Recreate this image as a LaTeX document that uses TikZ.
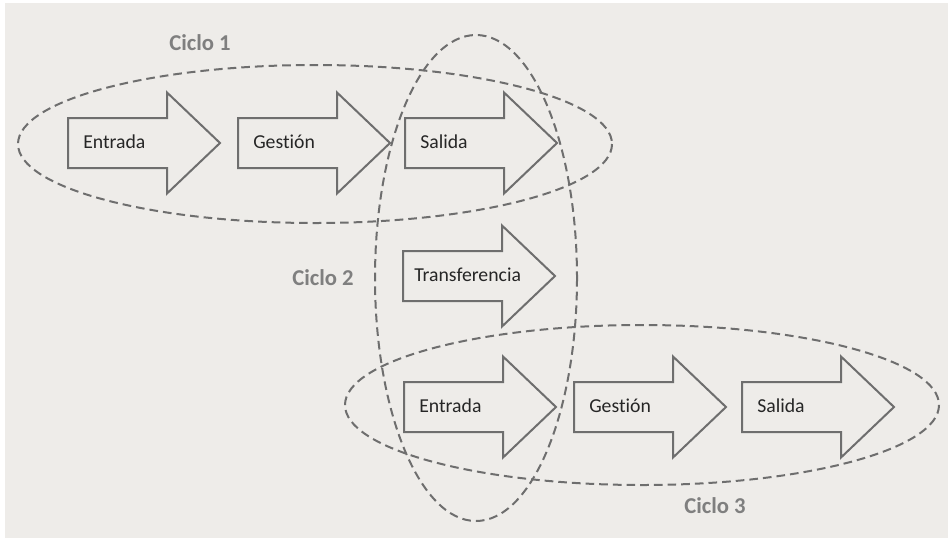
\documentclass[tikz,border=0pt]{standalone}
\usepackage{fontspec}
\setmainfont{Carlito}[Ligatures={NoCommon}]
\usepackage{tikz}
\usetikzlibrary{calc}

\definecolor{fondo}{HTML}{EEECE9}
\definecolor{linea}{HTML}{6E6E6E}
\definecolor{rotulo}{HTML}{7F7F7F}
\definecolor{texto}{HTML}{262626}

% block arrow: [inset], position, name, text
\newcommand{\flecha}[4][15]{%
  \coordinate (#3-c) at (#2);
  \draw[contorno] ($(#3-c)+(0,-25)$) -- ++(99,0) -- ++(0,-25.5) -- ++(53,50.5)
    -- ++(-53,50.5) -- ++(0,-25.5) -- ++(-99,0) -- cycle;
  \node[etiqueta] (#3) at ($(#3-c)+(#1,5)$) {#4};
}

\begin{document}
\begin{tikzpicture}[x=0.75pt,y=-0.75pt,
    contorno/.style={draw=linea, line width=1.5pt},
    ciclo/.style={draw=linea, line width=1.5pt, dash pattern=on 6.5pt off 3.75pt},
    etiqueta/.style={anchor=base west, inner sep=0pt, text=texto, font=\fontsize{14.8}{16}\selectfont},
    titulo/.style={text=rotulo, font=\fontsize{17}{19}\selectfont\bfseries}]
    % Background
    \useasboundingbox (0,0) rectangle (952,540);
    \fill[white] (0,0) rectangle (952,540);
    \fill[fondo] (5,3) rectangle (948,538);

    % Cycles
    \draw[ciclo] (315,144) ellipse [x radius=297, y radius=79]; % Ciclo 1
    \draw[ciclo] (476,278) ellipse [x radius=101, y radius=243]; % Ciclo 2
    \draw[ciclo] (642,405) ellipse [x radius=297, y radius=80]; % Ciclo 3

    % Row 1
    \flecha{68,143}{entrada1}{Entrada}
    \flecha{238,143}{gestion1}{Gestión}
    \flecha{405,143}{salida1}{Salida}

    % Row 2
    \flecha[11]{403,276}{transferencia}{Transferencia}

    % Row 3
    \flecha{404,407}{entrada3}{Entrada}
    \flecha{574,407}{gestion3}{Gestión}
    \flecha{742,407}{salida3}{Salida}

    % Labels
    \node[titulo] (ciclo1) at (200,43) {Ciclo 1};
    \node[titulo] (ciclo2) at (323,278) {Ciclo 2};
    \node[titulo] (ciclo3) at (715,506) {Ciclo 3};
\end{tikzpicture}
\end{document}
